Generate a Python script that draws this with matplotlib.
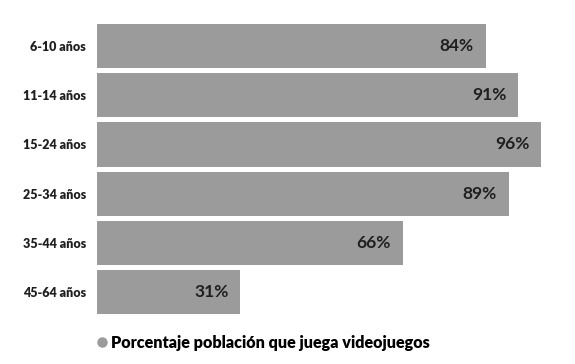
import matplotlib.pyplot as plt
from matplotlib.lines import Line2D

plt.rcParams['font.family'] = ['Lato', 'DejaVu Sans']

groups = ["6-10 años", "11-14 años", "15-24 años", "25-34 años", "35-44 años", "45-64 años"]
values = [84, 91, 96, 89, 66, 31]
series_name = "Porcentaje población que juega videojuegos"

BAR = "#9b9b9b"
INK = "#1f1f1f"

fig = plt.figure(figsize=(5.75, 3.64), dpi=100)
ax = fig.add_axes([0.1687, 0.130, 0.805, 0.811])

ypos = list(range(len(groups)))
ax.barh(ypos, values, height=0.9, color=BAR, edgecolor="none")
for y, v in zip(ypos, values):
    ax.text(v - 2.6, y, f"{v}%", ha="right", va="center",
            fontsize=12.5, fontweight="bold", color=INK)

ax.set_xlim(0, 100)
ax.set_ylim(len(groups) - 0.5, -0.5)
ax.set_yticks(ypos)
ax.set_yticklabels(groups, fontsize=9, fontweight="heavy", color=INK)
ax.tick_params(axis="y", length=0, pad=8)
ax.set_xticks([])
for s in ax.spines.values():
    s.set_visible(False)

handle = Line2D([], [], marker="o", linestyle="none", markersize=7.5,
                markerfacecolor=BAR, markeredgecolor="none")
fig.legend([handle], [series_name], loc="center left",
           bbox_to_anchor=(0.139, 0.058), frameon=False, handletextpad=0.05,
           handlelength=1.0, prop={"size": 11.6, "weight": "heavy"})

fig.savefig("out.png", dpi=100)
